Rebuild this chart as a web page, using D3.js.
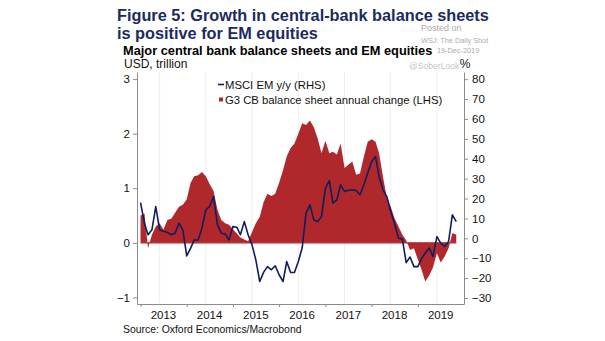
<!DOCTYPE html>
<html>
<head>
<meta charset="utf-8">
<script src="https://cdn.jsdelivr.net/npm/d3@7"></script>
<style>
  body { margin: 0; background: #fff; }
  svg { font-family: "Liberation Sans", Arial, sans-serif; display: block; }
  .axis text { font-size: 11.5px; fill: #111; }
  .axis path, .axis line { stroke: #8c8c8c; }
</style>
</head>
<body>
<div id="chart"></div>
<script>
// monthly, starting Jan 2013
const firstMonth = new Date(2013, 0, 1);

// G3 CB balance sheet annual change, USD trillion (LHS)
const cbChange = [
  0.50, 0.54, -0.10, 0.15, 0.30, 0.36, 0.24, 0.42, 0.44, 0.55, 0.66, 0.70,
  0.80, 1.10, 1.22, 1.24, 1.30, 1.22, 1.08, 0.95, 0.60, 0.42, 0.36, 0.33,
  0.25, 0.17, 0.10, 0.06, 0.03, 0.20, 0.36, 0.48, 0.75, 0.90, 0.86, 0.90,
  1.10, 1.33, 1.58, 1.74, 1.82, 2.00, 2.19, 2.16, 2.24, 2.12, 1.91, 1.64,
  1.87, 1.64, 1.67, 1.62, 1.82, 1.37, 1.43, 1.49, 1.25, 1.27, 1.58, 1.85,
  1.90, 1.85, 1.64, 1.21, 0.82, 0.66, 0.45, 0.30, 0.15, 0.05, -0.13, -0.10,
  -0.30, -0.50, -0.71, -0.60, -0.45, -0.19, -0.36, -0.25, -0.10, 0.18, 0.15
];

// MSCI EM y/y, % (RHS)
const msciEm = [
  18, 7.6, 1.8, 4.3, 16, 4.3, 3.6, 3.0, 1.8, 2.6, 7.6, 4.3,
  -8.8, -4.9, -0.8, -0.8, 5.1, 14.3, 16, 21, 6.8, 2.6, 2.2, -0.8,
  5.9, 5.6, 1.8, 8.4, 1.8, -3.3, -10.8, -21.7, -17, -14.2, -15.8, -13.8,
  -18.3, -21.7, -11.7, -17.2, -17.2, -11.6, -4.9, 12.7, 16.8, 9.3, 8.4, 11,
  25.2, 29, 17.7, 19.3, 26.9, 23.5, 24.2, 24.4, 24, 21.9, 26.9, 32.8,
  38.6, 41.1, 31, 24.4, 21, 13.5, 7.6, 0.1, -0.4, -12.2, -9.4, -14.2,
  -14.2, -10, -7.4, -4.9, -9.1, 0.9, -2.4, -4.1, -1.6, 11.8, 8.4
];

const leftTicks = [-1, 0, 1, 2, 3];
const rightTicks = [-30, -20, -10, 0, 10, 20, 30, 40, 50, 60, 70, 80];
const years = [2013, 2014, 2015, 2016, 2017, 2018, 2019];

const titleLines = ["Figure 5: Growth in central-bank balance sheets", "is positive for EM equities"];
const subtitle = "Major central bank balance sheets and EM equities";
const legendLabels = ["MSCI EM y/y (RHS)", "G3 CB balance sheet annual change (LHS)"];
const stamp = ["Posted on", "WSJ: The Daily Shot", "19-Dec-2019"];

const red = "#b0282b";
const navy = "#0f1f5c";

const width = 605, height = 341;
const svg = d3.select("#chart").append("svg")
    .attr("width", width)
    .attr("height", height);

// plot frame
const margin = {left: 137, right: 464, top: 72, bottom: 304};

const x = d3.scaleTime()
    .domain([new Date(2012, 11, 4), new Date(2020, 0, 1)])
    .range([margin.left, margin.right]);
const yL = d3.scaleLinear().domain([-1.12, 3.13]).range([margin.bottom, margin.top]);
const yR = d3.scaleLinear().domain([-33, 83.6]).range([margin.bottom, margin.top]);

const monthDate = i => d3.timeMonth.offset(firstMonth, i);
const cbData = cbChange.map((v, i) => ({date: monthDate(i), value: v}));
const msciData = msciEm.map((v, i) => ({date: monthDate(i), value: v}));

// stamp sits behind everything
svg.append("g").selectAll("text")
    .data(stamp)
  .enter().append("text")
    .attr("x", (d, i) => i === 2 ? 437 : 421)
    .attr("y", (d, i) => [31, 43, 53][i])
    .attr("font-size", (d, i) => i === 0 ? 9 : 7.3)
    .attr("fill", "#ababab")
    .text(d => d);

svg.append("text")
    .attr("x", 409)
    .attr("y", 69)
    .attr("font-size", 8.6)
    .attr("fill", "#c4c4c4")
    .text("@SoberLook");

// faint vertical grid
svg.append("g").selectAll("line")
    .data(years)
  .enter().append("line")
    .attr("x1", d => x(new Date(d, 5, 1)))
    .attr("x2", d => x(new Date(d, 5, 1)))
    .attr("y1", margin.top)
    .attr("y2", margin.bottom)
    .attr("stroke", "#eeeeee");

// balance sheet change area
svg.append("path")
    .datum(cbData)
    .attr("fill", red)
    .attr("d", d3.area()
      .x(d => x(d.date))
      .y0(yL(0))
      .y1(d => yL(d.value)));

svg.append("line")
    .attr("x1", x(cbData[0].date))
    .attr("x2", x(cbData[cbData.length - 1].date))
    .attr("y1", yL(0))
    .attr("y2", yL(0))
    .attr("stroke", red)
    .attr("stroke-width", 1.2);

// MSCI line
svg.append("path")
    .datum(msciData)
    .attr("fill", "none")
    .attr("stroke", navy)
    .attr("stroke-width", 1.6)
    .attr("stroke-linejoin", "round")
    .attr("d", d3.line()
      .x(d => x(d.date))
      .y(d => yR(d.value)));

// axes
svg.append("g")
    .attr("class", "axis axis--left")
    .attr("transform", "translate(" + margin.left + ",0)")
    .call(d3.axisLeft(yL).tickValues(leftTicks).tickFormat(d3.format("d"))
      .tickSize(4).tickSizeOuter(0).tickPadding(3));

svg.append("g")
    .attr("class", "axis axis--right")
    .attr("transform", "translate(" + margin.right + ",0)")
    .call(d3.axisRight(yR).tickValues(rightTicks).tickFormat(d3.format("d"))
      .tickSize(4).tickSizeOuter(0).tickPadding(4));

const xAxisG = svg.append("g")
    .attr("class", "axis axis--x")
    .attr("transform", "translate(0," + margin.bottom + ")")
    .call(d3.axisBottom(x).tickValues(years.map(d => new Date(d, 0, 1))).tickSize(3).tickSizeOuter(0).tickFormat(""));

// year labels sit between ticks
xAxisG.selectAll("text.year")
    .data(years)
  .enter().append("text")
    .attr("class", "year")
    .attr("x", d => x(new Date(d, 6, 1)))
    .attr("y", 15)
    .attr("text-anchor", "middle")
    .text(d => d);

// titles
svg.append("text")
    .attr("x", 117)
    .attr("y", 21)
    .attr("font-size", 16.3)
    .attr("font-weight", "bold")
    .attr("fill", "#1b2b5e")
    .selectAll("tspan")
    .data(titleLines)
  .enter().append("tspan")
    .attr("x", 117)
    .attr("dy", (d, i) => i === 0 ? 0 : 17.5)
    .text(d => d);

svg.append("text")
    .attr("x", 123)
    .attr("y", 55)
    .attr("font-size", 12.8)
    .attr("font-weight", "bold")
    .attr("fill", "#000")
    .text(subtitle);

svg.append("text")
    .attr("x", 124)
    .attr("y", 68)
    .attr("font-size", 12)
    .attr("fill", "#111")
    .text("USD, trillion");

svg.append("text")
    .attr("x", 465)
    .attr("y", 68)
    .attr("text-anchor", "middle")
    .attr("font-size", 12)
    .attr("fill", "#111")
    .text("%");

// legend
const legend = svg.append("g").attr("transform", "translate(218,0)");
legend.append("line")
    .attr("x1", 0).attr("x2", 6)
    .attr("y1", 84.5).attr("y2", 84.5)
    .attr("stroke", navy)
    .attr("stroke-width", 1.6);
legend.append("rect")
    .attr("x", 1).attr("y", 97.5)
    .attr("width", 4).attr("height", 4)
    .attr("fill", red);
legend.selectAll("text")
    .data(legendLabels)
  .enter().append("text")
    .attr("x", 7)
    .attr("y", (d, i) => 88.5 + i * 15)
    .attr("font-size", 11.3)
    .attr("fill", "#111")
    .text(d => d);

svg.append("text")
    .attr("x", 123)
    .attr("y", 333)
    .attr("font-size", 10.4)
    .attr("fill", "#111")
    .text("Source: Oxford Economics/Macrobond");
</script>
</body>
</html>
